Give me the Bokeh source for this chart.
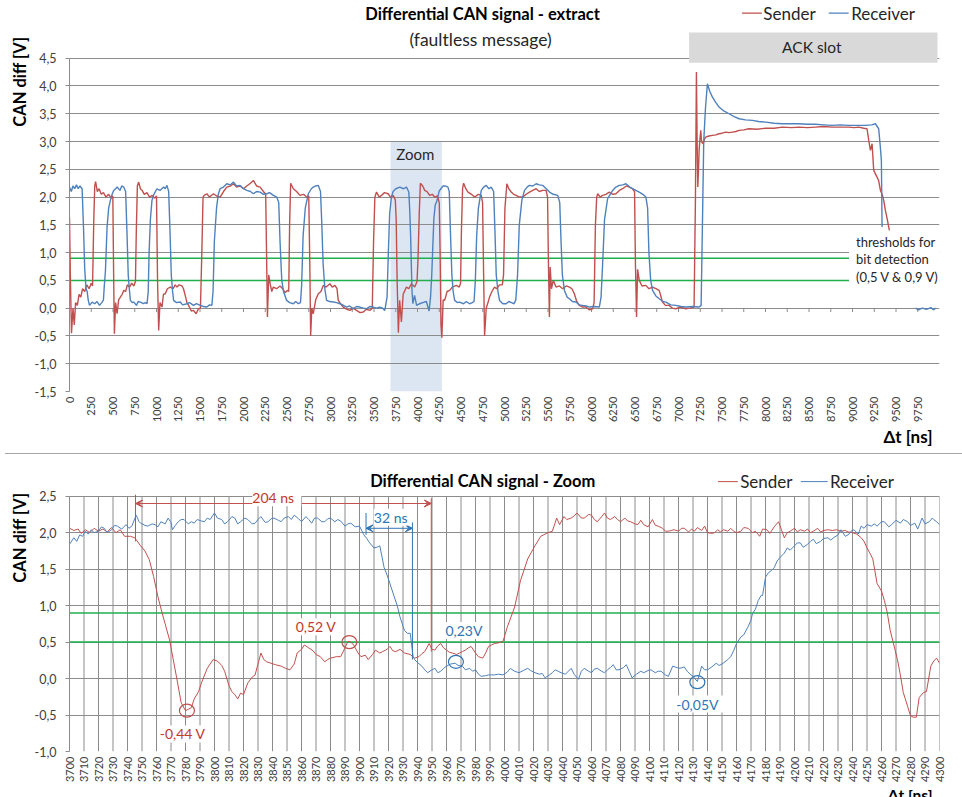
import math
from bokeh.plotting import figure
from bokeh.models import FixedTicker, CustomJSTickFormatter, Label, Arrow, VeeHead, Div, Title
from bokeh.layouts import column
from bokeh.embed import file_html
from bokeh.resources import INLINE
from bokeh.core.properties import value

# ---------------- data ----------------
# overview: (time ns, voltage V)
top_sender = [
    (0, 1.63), (10, 0.55), (23, -0.45), (40, 0.0), (55, -0.3), (70, 0.1), (90, 0.05), (110, 0.25),
    (130, 0.2), (150, 0.35), (175, 0.3), (200, 0.42), (225, 0.35), (250, 0.45), (265, 0.4),
    (279, 1.58), (290, 2.2), (300, 2.28), (320, 2.1), (340, 2.15), (365, 2.05), (390, 2.08),
    (420, 2.0), (450, 2.05), (480, 1.98), (498, 2.02), (508, 0.5), (516, -0.46), (530, 0.1),
    (547, -0.1), (565, 0.15), (585, 0.2), (605, 0.25), (625, 0.32), (645, 0.3), (665, 0.42),
    (690, 0.38), (715, 0.45), (740, 0.4), (758, 0.48), (768, 1.4), (780, 2.2), (795, 2.27),
    (815, 2.15), (835, 2.12), (860, 2.05), (890, 2.08), (920, 2.0), (950, 2.03), (980, 1.98),
    (1000, 2.02), (1012, 0.5), (1025, -0.4), (1040, 0.1), (1063, 0.02), (1080, 0.25),
    (1101, 0.26), (1125, 0.35), (1158, 0.38), (1190, 0.35), (1215, 0.42), (1235, 0.38),
    (1260, 0.42), (1292, 0.4), (1310, 0.35), (1330, 0.23), (1350, 0.1), (1369, 0.05),
    (1400, -0.05), (1426, -0.04), (1455, -0.1), (1483, -0.01), (1505, 0.0), (1521, 1.0),
    (1535, 2.0), (1548, 2.03), (1579, 2.06), (1610, 2.0), (1655, 2.06), (1690, 2.02),
    (1732, 2.0), (1770, 2.1), (1808, 2.18), (1850, 2.2), (1885, 2.24), (1920, 2.18),
    (1961, 2.2), (2000, 2.15), (2038, 2.2), (2080, 2.25), (2114, 2.3), (2150, 2.2),
    (2191, 2.18), (2229, 2.1), (2255, 2.05), (2265, 1.0), (2275, -0.16), (2290, 0.6),
    (2305, 0.45), (2325, 0.3), (2343, 0.38), (2380, 0.35), (2420, 0.4), (2450, 0.35),
    (2477, 0.28), (2505, 0.32), (2520, 0.3), (2530, 1.5), (2542, 2.25), (2573, 2.15),
    (2610, 2.1), (2649, 2.03), (2690, 2.05), (2726, 2.0), (2750, 2.02), (2762, 0.8),
    (2772, -0.5), (2785, 0.0), (2802, -0.1), (2830, 0.15), (2860, 0.26), (2890, 0.3),
    (2917, 0.41), (2950, 0.38), (2993, 0.44), (3020, 0.38), (3051, 0.41), (3075, 0.35),
    (3089, 0.14), (3115, 0.08), (3146, 0.02), (3185, -0.02), (3223, -0.04), (3260, 0.0),
    (3299, -0.04), (3340, -0.08), (3376, -0.07), (3410, -0.02), (3452, -0.04), (3480, 0.0),
    (3495, 1.2), (3510, 2.0), (3529, 2.09), (3560, 2.0), (3586, 2.03), (3620, 2.08),
    (3662, 2.06), (3690, 2.0), (3720, 2.03), (3745, 1.95), (3755, 1.6), (3766, 0.5),
    (3780, -0.44), (3795, 0.14), (3815, -0.25), (3835, 0.25), (3873, 0.38), (3900, 0.35),
    (3930, 0.44), (3968, 0.38), (3995, 0.48), (4006, 0.9), (4020, 1.7), (4033, 2.25),
    (4060, 2.2), (4083, 2.12), (4110, 2.1), (4140, 2.03), (4170, 2.05), (4197, 2.0),
    (4230, 2.02), (4250, 1.9), (4260, 1.0), (4270, -0.3), (4280, -0.53), (4295, 0.15),
    (4312, 0.14), (4340, 0.3), (4370, 0.32), (4400, 0.38), (4446, 0.41), (4480, 0.38),
    (4495, 0.45), (4505, 1.4), (4518, 2.15), (4530, 2.25), (4555, 2.15), (4580, 2.09),
    (4620, 2.05), (4656, 2.0), (4700, 2.05), (4733, 2.03), (4748, 1.9), (4760, 0.6),
    (4771, -0.5), (4790, 0.0), (4810, 0.1), (4828, 0.2), (4855, 0.3), (4885, 0.38),
    (4910, 0.35), (4943, 0.42), (4975, 0.42), (4989, 0.6), (5005, 1.8), (5027, 2.24),
    (5050, 2.15), (5077, 2.09), (5105, 2.05), (5134, 2.03), (5170, 2.0), (5211, 2.0),
    (5250, 2.05), (5287, 2.09), (5325, 2.12), (5364, 2.15), (5400, 2.1), (5440, 2.12),
    (5478, 2.12), (5495, 2.0), (5505, 0.8), (5516, -0.16), (5525, 0.74), (5540, 0.35),
    (5560, 0.5), (5593, 0.38), (5630, 0.4), (5669, 0.35), (5710, 0.4), (5746, 0.38),
    (5775, 0.35), (5803, 0.26), (5830, 0.12), (5860, 0.05), (5900, 0.02), (5937, 0.02),
    (5975, -0.03), (6013, -0.01), (6030, 0.1), (6045, 1.5), (6060, 2.0), (6071, 2.06),
    (6100, 2.0), (6128, 2.03), (6165, 2.05), (6205, 2.09), (6245, 2.05), (6281, 2.06),
    (6320, 2.12), (6358, 2.15), (6400, 2.2), (6434, 2.18), (6470, 2.15), (6495, 2.1),
    (6505, 0.8), (6518, -0.16), (6530, 0.7), (6549, 0.5), (6580, 0.4), (6625, 0.41),
    (6660, 0.35), (6702, 0.38), (6740, 0.35), (6778, 0.32), (6800, 0.2), (6816, 0.11),
    (6850, 0.05), (6893, 0.05), (6930, 0.0), (6969, -0.01), (7020, 0.02), (7084, -0.01),
    (7130, 0.0), (7179, 0.02), (7195, 2.0), (7206, 4.25), (7214, 3.0), (7222, 2.18),
    (7230, 2.5), (7237, 2.84), (7247, 3.05), (7256, 3.2), (7265, 3.0), (7283, 2.96),
    (7300, 3.05), (7313, 3.08), (7350, 3.1), (7390, 3.11), (7430, 3.12), (7466, 3.14),
    (7500, 3.15), (7543, 3.17), (7580, 3.16), (7619, 3.17), (7660, 3.18), (7696, 3.2),
    (7750, 3.21), (7810, 3.23), (7900, 3.22), (8001, 3.24), (8100, 3.24), (8193, 3.26),
    (8300, 3.25), (8384, 3.26), (8480, 3.25), (8575, 3.26), (8670, 3.27), (8766, 3.26),
    (8860, 3.26), (8957, 3.26), (9020, 3.25), (9072, 3.26), (9130, 3.24), (9167, 3.23),
    (9187, 3.02), (9206, 2.84), (9225, 2.96), (9244, 2.48), (9282, 2.36), (9300, 2.3),
    (9321, 2.12), (9340, 2.05), (9359, 1.94), (9378, 1.76), (9400, 1.6), (9416, 1.46),
    (9425, 1.4),
]
top_receiver = [
    (0, 2.18), (20, 2.1), (40, 2.2), (60, 2.15), (80, 2.22), (100, 2.15), (120, 2.2),
    (145, 2.15), (160, 1.5), (175, 0.7), (190, 0.35), (203, 0.3), (215, 0.15), (230, 0.05),
    (260, 0.11), (290, 0.08), (317, 0.12), (345, 0.05), (375, 0.11), (390, 0.15), (400, 0.4),
    (413, 0.67), (432, 1.46), (450, 1.8), (470, 1.94), (490, 2.05), (508, 2.12), (530, 2.15),
    (547, 2.18), (580, 2.12), (600, 2.2), (623, 2.18), (645, 2.1), (660, 1.4), (675, 0.6),
    (690, 0.3), (700, 0.14), (720, 0.1), (738, 0.11), (770, 0.05), (790, 0.12), (814, 0.11),
    (850, 0.08), (875, 0.1), (891, 0.08), (905, 0.3), (915, 1.0), (930, 1.6), (948, 1.94),
    (970, 2.05), (1005, 2.15), (1040, 2.12), (1082, 2.18), (1100, 2.15), (1120, 2.21),
    (1140, 2.1), (1155, 1.4), (1170, 0.6), (1185, 0.3), (1197, 0.14), (1230, 0.1),
    (1273, 0.11), (1300, 0.06), (1350, 0.08), (1380, 0.1), (1426, 0.05), (1460, 0.08),
    (1502, 0.05), (1540, 0.03), (1579, 0.02), (1610, 0.06), (1636, 0.05), (1650, 0.3),
    (1665, 1.2), (1690, 1.8), (1710, 2.05), (1732, 2.15), (1770, 2.18), (1808, 2.24),
    (1850, 2.22), (1885, 2.27), (1920, 2.2), (1961, 2.21), (2000, 2.15), (2038, 2.12),
    (2080, 2.1), (2114, 2.06), (2150, 2.1), (2191, 2.09), (2230, 2.05), (2267, 2.06),
    (2300, 2.08), (2343, 2.03), (2382, 2.0), (2405, 1.9), (2420, 1.2), (2440, 0.5),
    (2460, 0.3), (2496, 0.14), (2530, 0.1), (2573, 0.08), (2600, 0.12), (2630, 0.08),
    (2655, 0.1), (2668, 0.4), (2685, 1.3), (2710, 1.8), (2745, 2.06), (2780, 2.15),
    (2802, 2.18), (2830, 2.2), (2860, 2.21), (2885, 2.1), (2898, 1.6), (2915, 0.8),
    (2935, 0.35), (2955, 0.14), (2990, 0.12), (3032, 0.11), (3070, 0.1), (3108, 0.08),
    (3150, 0.05), (3185, 0.02), (3220, 0.04), (3261, -0.01), (3300, 0.03), (3338, 0.02),
    (3380, 0.0), (3414, -0.01), (3450, 0.03), (3490, 0.02), (3530, 0.0), (3567, 0.02),
    (3600, 0.0), (3624, -0.04), (3650, 0.2), (3665, 1.0), (3680, 1.7), (3700, 2.0),
    (3720, 2.1), (3750, 2.15), (3796, 2.18), (3840, 2.15), (3873, 2.18), (3900, 2.09),
    (3910, 1.79), (3921, 1.3), (3931, 0.66), (3937, 0.3), (3947, 0.08), (3966, 0.23),
    (3990, 0.05), (4025, 0.08), (4060, 0.1), (4102, 0.12), (4133, -0.05), (4150, 0.2),
    (4163, 0.57), (4175, 1.07), (4188, 1.61), (4204, 1.86), (4223, 1.93), (4250, 2.11),
    (4293, 2.2), (4320, 2.2), (4350, 2.18), (4365, 2.1), (4380, 1.3), (4395, 0.6),
    (4410, 0.3), (4427, 0.14), (4460, 0.1), (4484, 0.11), (4530, 0.08), (4560, 0.12),
    (4599, 0.08), (4630, 0.1), (4650, 0.12), (4665, 0.5), (4680, 1.3), (4700, 1.8),
    (4733, 2.12), (4760, 2.18), (4790, 2.21), (4820, 2.15), (4847, 2.18), (4875, 2.1),
    (4890, 1.4), (4905, 0.6), (4925, 0.3), (4943, 0.14), (4981, 0.08), (5019, 0.08),
    (5050, 0.12), (5080, 0.1), (5110, 0.08), (5130, 0.15), (5150, 0.6), (5170, 1.5),
    (5200, 1.95), (5230, 2.12), (5260, 2.18), (5287, 2.21), (5325, 2.2), (5364, 2.24),
    (5400, 2.22), (5440, 2.21), (5480, 2.15), (5517, 2.09), (5560, 2.05), (5612, 2.03),
    (5635, 1.9), (5650, 1.2), (5665, 0.6), (5689, 0.32), (5720, 0.2), (5746, 0.17),
    (5780, 0.12), (5822, 0.11), (5860, 0.06), (5899, 0.05), (5940, 0.04), (5975, 0.02),
    (6030, 0.03), (6090, 0.02), (6110, 0.2), (6128, 0.8), (6150, 1.6), (6185, 1.97),
    (6215, 2.05), (6243, 2.12), (6280, 2.18), (6319, 2.21), (6360, 2.22), (6396, 2.24),
    (6440, 2.18), (6472, 2.15), (6510, 2.12), (6549, 2.09), (6590, 2.05), (6625, 2.0),
    (6645, 1.8), (6660, 1.0), (6680, 0.5), (6702, 0.32), (6740, 0.22), (6778, 0.17),
    (6820, 0.12), (6855, 0.11), (6910, 0.06), (6969, 0.05), (7030, 0.03), (7084, 0.02),
    (7160, 0.03), (7237, 0.02), (7260, 0.05), (7275, 1.5), (7290, 3.0), (7310, 3.6),
    (7332, 4.04), (7360, 3.9), (7390, 3.8), (7430, 3.7), (7466, 3.62), (7520, 3.55),
    (7581, 3.5), (7640, 3.45), (7696, 3.41), (7770, 3.39), (7849, 3.38), (7920, 3.36),
    (8001, 3.35), (8100, 3.33), (8193, 3.32), (8300, 3.32), (8384, 3.32), (8480, 3.31),
    (8575, 3.31), (8670, 3.3), (8766, 3.29), (8860, 3.3), (8957, 3.29), (9050, 3.29),
    (9148, 3.29), (9220, 3.3), (9263, 3.32), (9301, 3.23), (9320, 2.9), (9332, 2.66),
    (9340, 1.46), (9345, float("nan")),
    (9725, 0.0), (9760, -0.03), (9800, 0.0), (9850, -0.02), (9900, 0.01), (9930, -0.03),
    (9955, 0.0),
]

# zoom (3700 - 4300 ns): (time ns, voltage V)
zoom_sender = [
    (3700, 2.06), (3703, 2.03), (3706, 2.05), (3708, 1.99), (3711, 2.04), (3714, 2.0),
    (3717, 2.06), (3720, 2.02), (3723, 2.05), (3726, 2.01), (3729, 2.07), (3732, 2.0),
    (3735, 2.04), (3738, 1.95), (3742, 1.95), (3745, 1.93), (3749, 1.82), (3752, 1.75),
    (3755, 1.63), (3758, 1.4), (3761, 1.12), (3764, 0.89), (3769, 0.53), (3774, 0.0),
    (3777, -0.33), (3780, -0.44), (3782, -0.42), (3784, -0.40), (3786, -0.28), (3789, -0.18),
    (3791, -0.06), (3795, 0.14), (3799, 0.26), (3802, 0.24), (3805, 0.18), (3807, 0.10),
    (3810, -0.10), (3812, -0.18), (3814, -0.22), (3816, -0.28), (3818, -0.20), (3820, -0.22),
    (3823, -0.06), (3826, 0.02), (3828, 0.05), (3830, 0.2), (3832, 0.35), (3834, 0.26),
    (3836, 0.23), (3839, 0.21), (3842, 0.19), (3846, 0.17), (3849, 0.14), (3852, 0.12),
    (3855, 0.2), (3857, 0.35), (3860, 0.4), (3862, 0.46), (3865, 0.42), (3868, 0.38),
    (3870, 0.33), (3873, 0.3), (3876, 0.23), (3878, 0.26), (3880, 0.28), (3884, 0.3),
    (3887, 0.30), (3890, 0.42), (3892, 0.51), (3894, 0.5), (3896, 0.46), (3899, 0.35),
    (3901, 0.30), (3904, 0.32), (3906, 0.26), (3909, 0.33), (3911, 0.39), (3914, 0.35),
    (3916, 0.37), (3919, 0.40), (3921, 0.44), (3923, 0.38), (3925, 0.37), (3928, 0.40),
    (3931, 0.35), (3935, 0.33), (3938, 0.28), (3941, 0.30), (3943, 0.34), (3945, 0.37),
    (3948, 0.48), (3950, 0.40), (3952, 0.39), (3954, 0.45), (3956, 0.48), (3958, 0.42),
    (3960, 0.39), (3962, 0.36), (3964, 0.35), (3967, 0.33), (3969, 0.35), (3971, 0.37),
    (3973, 0.39), (3975, 0.42), (3977, 0.44), (3980, 0.35), (3982, 0.30), (3985, 0.28),
    (3987, 0.35), (3989, 0.44), (3991, 0.46), (3993, 0.48), (3996, 0.49), (3999, 0.51),
    (4002, 0.71), (4007, 0.98), (4011, 1.34), (4016, 1.64), (4021, 1.82), (4025, 1.95),
    (4030, 2.0), (4033, 2.02), (4036, 2.2), (4038, 2.11), (4041, 2.22), (4043, 2.18),
    (4046, 2.2), (4048, 2.23), (4050, 2.27), (4053, 2.2), (4055, 2.2), (4058, 2.25),
    (4060, 2.24), (4062, 2.18), (4064, 2.15), (4067, 2.22), (4069, 2.27), (4071, 2.2),
    (4073, 2.18), (4076, 2.22), (4078, 2.18), (4080, 2.15), (4083, 2.2), (4085, 2.16),
    (4087, 2.15), (4090, 2.12), (4092, 2.11), (4094, 2.17), (4096, 2.11), (4099, 2.08),
    (4102, 2.18), (4104, 2.1), (4106, 2.09), (4109, 2.06), (4111, 2.02), (4113, 2.02),
    (4115, 2.03), (4117, 2.04), (4120, 2.02), (4122, 2.06), (4124, 2.06), (4127, 2.01),
    (4129, 2.05), (4131, 2.02), (4133, 2.07), (4136, 2.03), (4138, 2.09), (4140, 2.0),
    (4143, 1.99), (4145, 2.0), (4147, 2.04), (4149, 2.01), (4151, 2.04), (4154, 2.02),
    (4156, 2.06), (4158, 2.02), (4160, 2.0), (4163, 2.02), (4165, 2.07), (4168, 2.06),
    (4171, 2.0), (4173, 2.02), (4176, 1.95), (4178, 2.05), (4181, 2.04), (4183, 1.99),
    (4186, 2.08), (4189, 2.15), (4191, 2.04), (4193, 1.93), (4195, 2.0), (4197, 2.02),
    (4200, 2.06), (4202, 2.01), (4204, 2.04), (4207, 2.02), (4209, 2.05), (4211, 2.0),
    (4213, 2.02), (4216, 2.06), (4218, 2.01), (4220, 2.03), (4223, 2.04), (4226, 2.03),
    (4229, 2.04), (4232, 2.02), (4235, 2.03), (4237, 2.01), (4240, 2.0), (4243, 1.98),
    (4246, 1.93), (4248, 1.88), (4250, 1.79), (4252, 1.72), (4254, 1.64), (4257, 1.3),
    (4260, 1.2), (4262, 1.07), (4264, 0.9), (4266, 0.66), (4268, 0.5), (4271, 0.26),
    (4273, 0.05), (4275, -0.19), (4278, -0.38), (4280, -0.51), (4282, -0.53), (4284, -0.53),
    (4286, -0.26), (4289, -0.19), (4291, -0.18), (4294, 0.17), (4296, 0.24), (4298, 0.28),
    (4300, 0.21),
]
zoom_receiver = [
    (3700, 1.84), (3702, 1.9), (3703, 1.93), (3705, 1.88), (3707, 1.97), (3709, 1.95),
    (3711, 2.02), (3713, 1.98), (3715, 2.04), (3717, 2.0), (3720, 2.02), (3722, 2.08),
    (3724, 2.06), (3726, 2.0), (3729, 2.04), (3731, 2.1), (3733, 2.09), (3736, 2.05),
    (3739, 2.11), (3741, 2.06), (3743, 2.09), (3746, 2.24), (3748, 2.15), (3749, 2.13),
    (3752, 2.1), (3754, 2.09), (3757, 2.12), (3759, 2.11), (3761, 2.08), (3763, 2.15),
    (3766, 2.12), (3768, 2.2), (3770, 2.14), (3771, 2.04), (3773, 2.1), (3775, 2.15),
    (3777, 2.18), (3779, 2.18), (3782, 2.12), (3784, 2.15), (3786, 2.13), (3788, 2.18),
    (3791, 2.16), (3793, 2.15), (3795, 2.2), (3797, 2.18), (3800, 2.27), (3802, 2.2),
    (3805, 2.18), (3807, 2.12), (3809, 2.15), (3812, 2.22), (3814, 2.2), (3816, 2.12),
    (3818, 2.15), (3821, 2.2), (3823, 2.18), (3826, 2.12), (3828, 2.13), (3830, 2.18),
    (3832, 2.22), (3835, 2.14), (3837, 2.15), (3839, 2.19), (3841, 2.2), (3844, 2.17),
    (3846, 2.15), (3848, 2.2), (3851, 2.22), (3853, 2.18), (3855, 2.24), (3858, 2.19),
    (3860, 2.15), (3863, 2.22), (3865, 2.18), (3867, 2.13), (3869, 2.2), (3871, 2.2),
    (3874, 2.15), (3876, 2.15), (3878, 2.19), (3880, 2.2), (3883, 2.15), (3885, 2.18),
    (3887, 2.16), (3890, 2.09), (3892, 2.12), (3894, 2.13), (3897, 2.08), (3900, 2.09),
    (3903, 1.97), (3905, 1.92), (3907, 1.86), (3910, 1.79), (3912, 1.8), (3914, 1.82),
    (3917, 1.52), (3919, 1.42), (3921, 1.30), (3924, 1.12), (3926, 1.0), (3928, 0.84),
    (3931, 0.66), (3933, 0.62), (3935, 0.62), (3936, 0.45), (3937, 0.30), (3938, 0.26),
    (3940, 0.22), (3943, 0.17), (3945, 0.12), (3947, 0.08), (3950, 0.12), (3952, 0.14),
    (3954, 0.08), (3956, 0.10), (3958, 0.14), (3960, 0.17), (3963, 0.20), (3966, 0.21),
    (3968, 0.18), (3971, 0.17), (3973, 0.12), (3976, 0.14), (3978, 0.10), (3980, 0.12),
    (3982, 0.06), (3984, 0.03), (3987, 0.04), (3989, 0.05), (3991, 0.05), (3993, 0.05),
    (3996, 0.06), (3999, 0.05), (4002, 0.09), (4004, 0.14), (4007, 0.1), (4010, 0.08),
    (4013, 0.11), (4016, 0.14), (4018, 0.11), (4021, 0.08), (4024, 0.06), (4026, 0.07),
    (4028, 0.01), (4031, 0.05), (4033, 0.08), (4035, 0.12), (4037, 0.1), (4039, 0.08),
    (4042, 0.06), (4044, 0.1), (4046, 0.14), (4048, 0.06), (4051, -0.01), (4053, 0.1),
    (4055, 0.14), (4058, 0.1), (4060, 0.08), (4062, 0.13), (4064, 0.14), (4067, 0.1),
    (4069, 0.08), (4071, 0.12), (4073, 0.15), (4075, 0.19), (4077, 0.12), (4079, 0.12),
    (4082, 0.15), (4084, 0.19), (4086, 0.1), (4088, 0.01), (4091, 0.06), (4094, 0.10),
    (4096, 0.08), (4099, 0.11), (4101, 0.12), (4104, 0.08), (4106, 0.1), (4108, 0.10),
    (4111, 0.05), (4113, 0.03), (4116, 0.17), (4119, 0.15), (4121, 0.14), (4124, 0.16),
    (4126, 0.10), (4128, 0.06), (4130, 0.03), (4133, -0.04), (4136, 0.17), (4138, 0.12),
    (4140, 0.12), (4143, 0.16), (4146, 0.21), (4148, 0.18), (4150, 0.2), (4152, 0.23),
    (4154, 0.26), (4156, 0.30), (4158, 0.38), (4160, 0.48), (4163, 0.57), (4165, 0.6),
    (4168, 0.71), (4170, 0.8), (4171, 0.89), (4173, 0.95), (4175, 1.07), (4177, 1.14),
    (4178, 1.14), (4180, 1.39), (4182, 1.45), (4184, 1.48), (4186, 1.52), (4188, 1.61),
    (4190, 1.66), (4192, 1.70), (4193, 1.72), (4195, 1.79), (4197, 1.76), (4200, 1.82),
    (4202, 1.86), (4204, 1.86), (4206, 1.80), (4209, 1.84), (4211, 1.88), (4213, 1.91),
    (4215, 1.85), (4218, 1.88), (4220, 1.92), (4223, 1.93), (4225, 1.90), (4227, 1.93),
    (4230, 1.97), (4232, 2.04), (4235, 1.95), (4237, 1.97), (4239, 2.02), (4241, 2.04),
    (4244, 1.98), (4246, 2.09), (4248, 2.06), (4250, 2.11), (4253, 2.09), (4255, 2.12),
    (4257, 2.09), (4260, 2.15), (4262, 2.15), (4265, 2.08), (4267, 2.11), (4270, 2.17),
    (4273, 2.13), (4275, 2.18), (4278, 2.15), (4280, 2.1), (4283, 2.13), (4285, 2.05),
    (4288, 2.2), (4290, 2.12), (4293, 2.15), (4295, 2.2), (4296, 2.18), (4298, 2.15),
    (4300, 2.11),
]

top_xticks = list(range(0, 10000, 250))
top_yticks = [-1.5, -1.0, -0.5, 0.0, 0.5, 1.0, 1.5, 2.0, 2.5, 3.0, 3.5, 4.0, 4.5]
zoom_xticks = list(range(3700, 4301, 10))
zoom_yticks = [-1.0, -0.5, 0.0, 0.5, 1.0, 1.5, 2.0, 2.5]
thresholds = [0.5, 0.9]
zoom_window = [3690, 4280]          # shaded "Zoom" band in the overview
ack_slot = [7122, 9977]             # "ACK slot" box extent
threshold_line_end = 8960

# measurement annotations in the zoom chart
delay_204 = [3745.5, 3949.5]        # 204 ns
delay_32 = [3904.5, 3936.5]         # 32 ns
red_marks = [(3781, -0.44), (3893, 0.50)]
blue_marks = [(3966.5, 0.23), (4133, -0.05)]

# ---------------- style ----------------
FONT = "Lato"
RED = "#C0504D"
BLUE = "#4F81BD"
RED_TXT = "#C0392B"
BLUE_TXT = "#2E75B6"
GREEN = "#1DB04B"
GRID = "#8C8C8C"
TICK_TXT = "#404040"
TXT = "#262626"

fmt = CustomJSTickFormatter(code="return tick.toFixed(1).replace('.', ',');")


def unzip(pairs):
    return [a for a, _ in pairs], [b for _, b in pairs]


def label(p, x, y, text, size, color="black", bg=None):
    lab = Label(x=x, y=y, text=text, text_font=FONT, text_font_size=size, text_color=color,
                text_align="center", text_baseline="middle")
    if bg:
        lab.background_fill_color = bg
    p.add_layout(lab)


def base_axes(p, yticks, xticks, ybounds, standoff):
    p.outline_line_color = None
    p.background_fill_color = "white"
    p.border_fill_color = "white"
    p.xgrid.visible = False
    p.ygrid.ticker = FixedTicker(ticks=yticks)
    p.ygrid.grid_line_color = GRID
    p.ygrid.grid_line_width = 1
    ya = p.yaxis[0]
    ya.ticker = FixedTicker(ticks=yticks)
    ya.formatter = fmt
    ya.bounds = ybounds
    ya.axis_line_color = GRID
    ya.major_tick_line_color = GRID
    ya.major_tick_out = 4
    ya.major_tick_in = 0
    ya.minor_tick_line_color = None
    ya.major_label_standoff = 9
    ya.major_label_text_font = FONT
    ya.major_label_text_font_size = "12.5px"
    ya.major_label_text_color = TICK_TXT
    xa = p.xaxis[0]
    xa.ticker = FixedTicker(ticks=xticks)
    xa.axis_line_color = None
    xa.major_tick_line_color = None
    xa.minor_tick_line_color = None
    xa.major_tick_out = 0
    xa.major_label_standoff = standoff
    xa.major_label_orientation = math.pi / 2
    xa.major_label_text_font = FONT
    xa.major_label_text_font_size = "11px"
    xa.major_label_text_color = TICK_TXT


def axis_titles(p, ylab_offset, xlab_offset, xlab_size):
    p.add_layout(Title(text="CAN diff [V]", align="right", offset=ylab_offset, standoff=4,
                       text_font=FONT, text_font_size="16.5px", text_font_style="bold",
                       text_color="black"), "left")
    p.add_layout(Title(text="\u0394t [ns]", align="right", offset=xlab_offset, standoff=0,
                       vertical_align="top",
                       text_font=FONT, text_font_size=xlab_size, text_font_style="bold",
                       text_color="black"), "below")


# ================= overview chart =================
p1 = figure(width=960, height=448, x_range=(0, 10000), y_range=(-1.5, 5.5387),
            output_backend="svg", toolbar_location=None,
            min_border_left=69, min_border_right=19, min_border_top=0, min_border_bottom=57)
base_axes(p1, top_yticks, top_xticks, (-1.5, 4.5), 5)
axis_titles(p1, 36, 7, "17px")

p1.quad(left=zoom_window[0], right=zoom_window[1], bottom=-1.5, top=3.0,
        fill_color="#DCE6F2", line_color=None, level="image")
p1.segment(x0=top_xticks, y0=0, x1=top_xticks, y1=-0.07, line_color=GRID, line_width=1)
p1.segment(x0=[0] * len(thresholds), y0=thresholds, x1=[threshold_line_end] * len(thresholds),
           y1=thresholds, line_color=GREEN, line_width=1.5)
p1.quad(left=threshold_line_end, right=10000, bottom=0.3, top=1.3, fill_color="white", line_color=None)
p1.quad(left=ack_slot[0], right=ack_slot[1], bottom=4.42, top=4.963, fill_color="#D9D9D9", line_color=None)

ts, vs = unzip(top_sender)
tr, vr = unzip(top_receiver)
p1.line(ts, vs, line_color=RED, line_width=1.4)
p1.line(tr, vr, line_color=BLUE, line_width=1.4)

p1.text(x=[8532], y=[4.693], text=["ACK slot"], text_font=value(FONT), text_font_size="15.5px",
        text_align="center", text_baseline="middle", text_color=TXT)
p1.text(x=[3975], y=[2.78], text=["Zoom"], text_font=value(FONT), text_font_size="15px",
        text_align="center", text_baseline="middle", text_color=TXT)
p1.text(x=[9040] * 3, y=[1.188, 0.894, 0.57],
        text=["thresholds for", "bit detection", "(0,5 V & 0,9 V)"], text_font=value(FONT),
        text_font_size="13px", text_align="left", text_baseline="middle", text_color=TXT)
p1.text(x=[4748], y=[5.287], text=["Differential CAN signal - extract"], text_font=value(FONT),
        text_font_size="16.5px", text_font_style="bold", text_align="center", text_baseline="middle")
p1.text(x=[4725], y=[4.837], text=["(faultless message)"], text_font=value(FONT),
        text_font_size="17.5px", text_align="center", text_baseline="middle", text_color=TXT)
# legend
p1.segment(x0=[7729, 8727], y0=[5.313, 5.313], x1=[7959, 8956], y1=[5.313, 5.313],
           line_color=[RED, BLUE], line_width=1.3)
p1.text(x=[7975, 8985], y=[5.313, 5.313], text=["Sender", "Receiver"], text_font=value(FONT),
        text_font_size="17px", text_align="left", text_baseline="middle", text_color=TXT)

# ================= zoom chart =================
p2 = figure(width=960, height=348, x_range=(3700, 4300), y_range=(-1.0, 3.003),
            output_backend="svg", toolbar_location=None,
            min_border_left=68, min_border_right=21, min_border_top=0, min_border_bottom=56)
base_axes(p2, zoom_yticks, zoom_xticks, (-1.0, 2.5), 5)
axis_titles(p2, 33, 7, "15.5px")
p2.segment(x0=zoom_xticks, y0=-1.0, x1=zoom_xticks, y1=2.5, line_color=GRID, line_width=1, level="underlay")
p2.segment(x0=[3700] * len(thresholds), y0=thresholds, x1=[4300] * len(thresholds), y1=thresholds,
           line_color=GREEN, line_width=1.5)

zs_t, zs_v = unzip(zoom_sender)
zr_t, zr_v = unzip(zoom_receiver)
p2.line(zs_t, zs_v, line_color=RED, line_width=1)
p2.line(zr_t, zr_v, line_color=BLUE, line_width=1)

# measurement markers
p2.segment(x0=delay_204, y0=[2.52, 2.47], x1=delay_204, y1=[1.88, 0.37], line_color=RED, line_width=1)
p2.segment(x0=delay_32, y0=[2.27, 2.14], x1=delay_32, y1=[1.97, 0.26], line_color=BLUE_TXT, line_width=1)
p2.add_layout(Arrow(start=VeeHead(size=7, line_color=RED, fill_color=RED),
                    end=VeeHead(size=7, line_color=RED, fill_color=RED),
                    x_start=delay_204[0], y_start=2.40, x_end=delay_204[1], y_end=2.40,
                    line_color=RED, line_width=1))
p2.add_layout(Arrow(start=VeeHead(size=7, line_color=BLUE_TXT, fill_color=BLUE_TXT),
                    end=VeeHead(size=7, line_color=BLUE_TXT, fill_color=BLUE_TXT),
                    x_start=delay_32[0], y_start=2.06, x_end=delay_32[1], y_end=2.06,
                    line_color=BLUE_TXT, line_width=1))
rx, ry = unzip(red_marks)
bx, by = unzip(blue_marks)
p2.ellipse(x=rx, y=ry, width=15, height=13, width_units="screen", height_units="screen",
           fill_color=None, line_color=RED, line_width=1.2)
p2.ellipse(x=bx, y=by, width=15, height=13, width_units="screen", height_units="screen",
           fill_color=None, line_color=BLUE_TXT, line_width=1.2)

label(p2, 3843, 2.48, " 204 ns ", "14px", RED_TXT, bg="white")
label(p2, 3921.5, 2.21, "32 ns", "14px", BLUE_TXT, bg="white")
label(p2, 3870, 0.71, "0,52 V", "14px", RED_TXT, bg="white")
label(p2, 3972, 0.66, "0,23V", "14px", BLUE_TXT, bg="white")
label(p2, 3780.5, -0.76, " -0,44 V ", "14px", RED_TXT, bg="white")
label(p2, 4135.5, -0.35, " -0,05V ", "14px", BLUE_TXT, bg="white")

p2.text(x=[3985], y=[2.713], text=["Differential CAN signal - Zoom"], text_font=value(FONT),
        text_font_size="16.5px", text_font_style="bold", text_align="center", text_baseline="middle")
p2.segment(x0=[4147.2, 4204.3], y0=[2.70, 2.70], x1=[4160.9, 4222.9], y1=[2.70, 2.70],
           line_color=[RED, BLUE], line_width=1)
p2.text(x=[4162.5, 4224.5], y=[2.70, 2.70], text=["Sender", "Receiver"], text_font=value(FONT),
        text_font_size="17px", text_align="left", text_baseline="middle", text_color=TXT)

sep = Div(text="", width=960, height=1, styles={"background-color": "#A6A6A6"})
layout = column(p1, sep, p2)

with open("out.html", "w") as f:
    f.write(file_html(layout, INLINE))
